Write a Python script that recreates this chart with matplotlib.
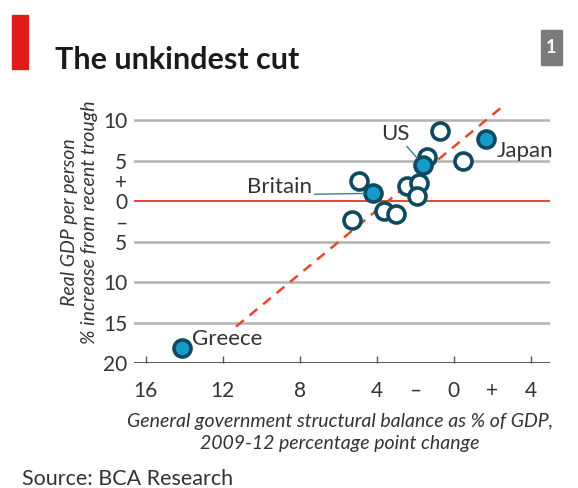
import numpy as np
import matplotlib.pyplot as plt

# Datos (x: cambio del saldo estructural, y: aumento del PIB real por persona)
open_x = [-0.7, 0.5, -1.4, -2.4, -1.8, -1.9, -4.9, -3.6, -3.0, -5.3]
open_y = [8.6, 5.0, 5.4, 1.8, 2.2, 0.6, 2.5, -1.2, -1.6, -2.3]

named = ['US', 'Japan', 'Britain', 'Greece']
named_x = [-1.6, 1.7, -4.2, -14.1]
named_y = [4.5, 7.7, 0.95, -18.1]

trend_x = [-11.3, 2.5]
trend_y = [-15.5, 11.6]

xticks = [-16, -12, -8, -4, 0, 4]
xticklabels = ['16', '12', '8', '4', '0', '4']
xsigns = [-2, 2]
xsignlabels = ['–', '+']
yticks = [10, 5, 0, -5, -10, -15, -20]
yticklabels = ['10', '5', '0', '5', '10', '15', '20']
ysigns = [2.5, -2.5]
ysignlabels = ['+', '–']

plt.rcParams['font.family'] = ['Lato', 'DejaVu Sans']

edge = '#0d4a60'
fill = '#1799c9'
red = '#e8452e'
grey = '#b3b3b3'
txt = '#333333'

fig = plt.figure(figsize=(5.78, 4.88), dpi=100)
ax = fig.add_axes([134 / 578, 1 - 363 / 488, 416 / 578, 260 / 488])
ax.set_xlim(-16.6, 5.0)
ax.set_ylim(-20, 12.1)

# Líneas de rejilla
for v in yticks:
    if v == 0:
        ax.axhline(v, color=red, lw=1.4, zorder=1)
    elif v == -20:
        ax.axhline(v, color='#555555', lw=1.4, zorder=1)
    else:
        ax.axhline(v, color=grey, lw=1.8, zorder=1)

ax.plot(trend_x, trend_y, color=red, lw=1.8, ls=(0, (4, 3)), zorder=2)

ax.scatter(open_x, open_y, s=150, facecolor='white', edgecolor=edge,
           linewidth=2.6, zorder=3)
ax.scatter(named_x, named_y, s=150, facecolor=fill, edgecolor=edge,
           linewidth=2.6, zorder=4)

# Etiquetas de los países
offsets = {'US': (-28, 31, 'center'), 'Japan': (10, -12, 'left'),
           'Britain': (-61, 6, 'right'), 'Greece': (10, 9, 'left')}
for name, x, y in zip(named, named_x, named_y):
    dx, dy, ha = offsets[name]
    arrow = None
    if name == 'US':
        arrow = dict(arrowstyle='-', color='#3a7f95', lw=1, shrinkA=0, shrinkB=6,
                     relpos=(0.8, 0.05))
    if name == 'Britain':
        arrow = dict(arrowstyle='-', color='#3a7f95', lw=1, shrinkA=0, shrinkB=6,
                     relpos=(1.0, 0.15))
    ax.annotate(name, (x, y), xytext=(dx * 0.72, dy * 0.72),
                textcoords='offset points', ha=ha, va='center',
                fontsize=16, color=txt, arrowprops=arrow, zorder=5)

ax.set_xticks(xticks)
ax.set_xticklabels(xticklabels)
ax.set_xticks(xsigns, minor=True)
ax.set_xticklabels(xsignlabels, minor=True)
ax.set_yticks(yticks)
ax.set_yticklabels(yticklabels)
ax.set_yticks(ysigns, minor=True)
ax.set_yticklabels(ysignlabels, minor=True)
ax.tick_params(axis='x', which='major', direction='in', length=5, width=1,
               color='#555555', labelsize=15, labelcolor=txt, pad=13)
ax.tick_params(axis='x', which='minor', length=0, labelsize=15,
               labelcolor=txt, pad=13)
ax.tick_params(axis='y', which='both', length=0, labelsize=15,
               labelcolor=txt, pad=5)
for s in ax.spines.values():
    s.set_visible(False)

fig.text(69 / 578, 1 - 222 / 488, 'Real GDP per person', rotation=90,
         ha='center', va='center', fontsize=14, style='italic', color=txt)
fig.text(89 / 578, 1 - 222 / 488, '% increase from recent trough', rotation=90,
         ha='center', va='center', fontsize=14, style='italic', color=txt)
fig.text(340 / 578, 1 - 421 / 488, 'General government structural balance as % of GDP,',
         ha='center', va='center', fontsize=14, style='italic', color=txt)
fig.text(340 / 578, 1 - 444 / 488, '2009-12 percentage point change',
         ha='center', va='center', fontsize=14, style='italic', color=txt)
fig.text(22 / 578, 1 - 479 / 488, 'Source: BCA Research', ha='left',
         va='center', fontsize=15.5, color=txt)

# Título y decoraciones
fig.patches.append(plt.Rectangle((12 / 578, 1 - 69 / 488), 16 / 578, 54 / 488,
                                 transform=fig.transFigure, color='#e31b1b'))
fig.text(55 / 578, 1 - 60 / 488, 'The unkindest cut', ha='left', va='center',
         fontsize=22, fontweight='bold', color='#1a1a1a')
fig.patches.append(plt.Rectangle((541 / 578, 1 - 65 / 488), 21 / 578, 35 / 488,
                                 transform=fig.transFigure, color='#7a7a7a'))
fig.text(551.5 / 578, 1 - 47.5 / 488, '1', ha='center', va='center',
         fontsize=13, fontweight='bold', color='white')

fig.savefig('out.png', dpi=100)
